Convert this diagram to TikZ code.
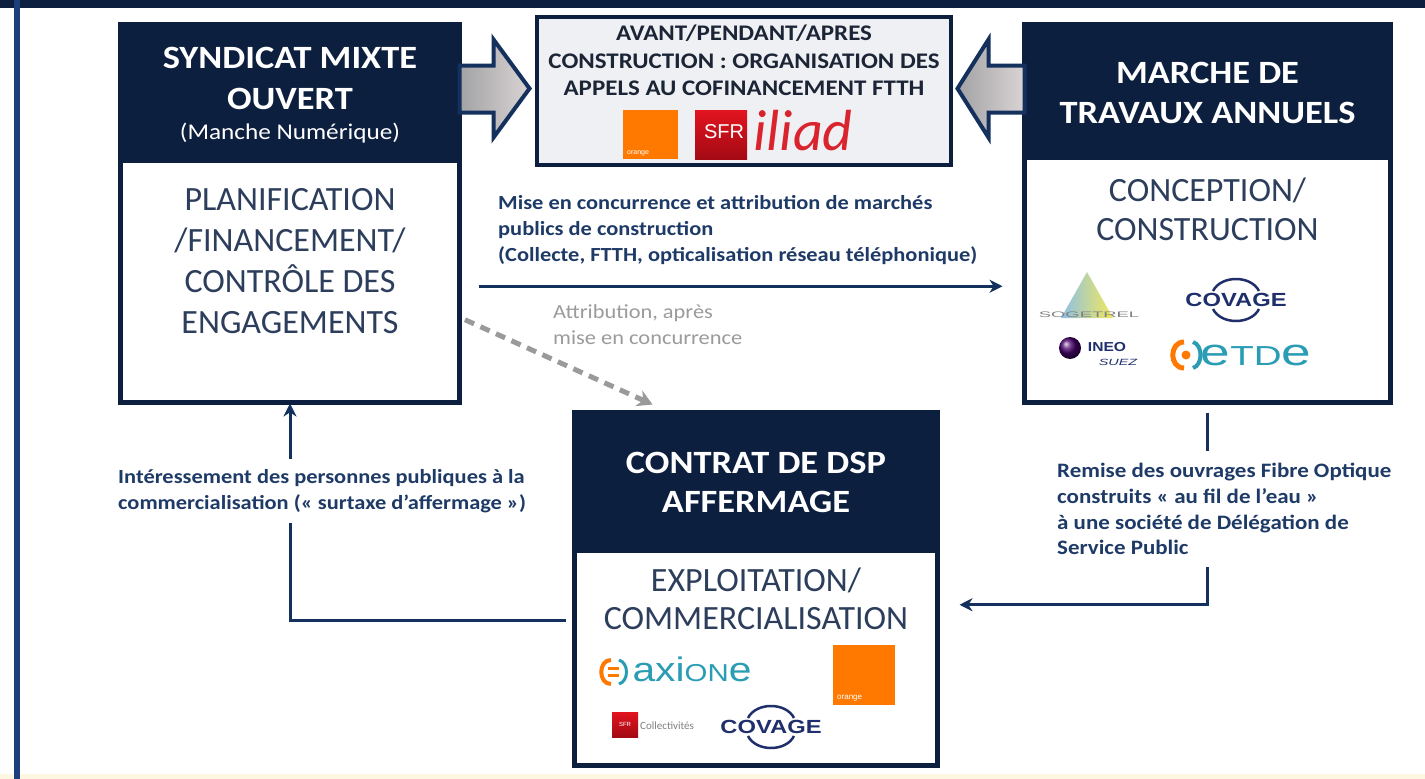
\documentclass[tikz,border=0pt]{standalone}
\usepackage{graphicx}
\usepackage{fontspec}
\setmainfont{Carlito}[FakeStretch=1.12]
\newfontfamily\bodyfont{Carlito}
\newfontfamily\logofont{Liberation Sans}
\usetikzlibrary{arrows.meta,calc}
\definecolor{navy}{HTML}{0D1F3E}
\definecolor{framebl}{HTML}{1C3F7C}
\definecolor{bodytx}{HTML}{2C3E5C}
\definecolor{linktx}{HTML}{1E3A66}
\definecolor{lineC}{HTML}{14305C}
\definecolor{grayT}{HTML}{9B9B9B}
\definecolor{grayD}{HTML}{9A9A9A}
\definecolor{orangeC}{HTML}{FF7900}
\definecolor{sfrRed}{HTML}{E2141F}
\definecolor{sfrDark}{HTML}{A30A14}
\definecolor{iliadRed}{HTML}{D9232D}
\definecolor{tealC}{HTML}{2A9DB5}
\definecolor{covNavy}{HTML}{1F2F6B}
\definecolor{boxgray}{HTML}{EFF0F3}
\definecolor{cofTx}{HTML}{1C2536}
\definecolor{bottomY}{HTML}{FDF6E0}
\definecolor{arrL}{HTML}{A2A2A4}
\definecolor{arrR}{HTML}{DAD4D4}
\definecolor{sogBlue}{HTML}{8CC0E8}
\definecolor{sogYel}{HTML}{F2E85A}
\begin{document}
\begin{tikzpicture}[x=1pt,y=-1pt,
  hdr/.style={fill=navy, draw=navy, line width=5pt, inner sep=0pt, outer sep=0pt},
  bodyb/.style={fill=white, draw=navy, line width=5pt, inner sep=0pt, outer sep=0pt},
  htext/.style={text=white, align=center, inner sep=0pt, font=\bfseries\fontsize{32.5}{40}\selectfont},
  btext/.style={text=bodytx, align=center, inner sep=0pt, font=\bodyfont\fontsize{34}{41}\selectfont},
  ltext/.style={text=linktx, align=left, inner sep=0pt, font=\bfseries\fontsize{20}{26}\selectfont},
  link/.style={draw=lineC, line width=3pt, -{Stealth[length=13pt,width=13pt]}},
  dlink/.style={draw=grayD, line width=5pt, dash pattern=on 10pt off 7pt, -{Stealth[length=15pt,width=17pt]}},
  barrow/.style={draw=lineC, line width=4pt, left color=arrL, right color=arrR, line join=miter},
  logobox/.style={inner sep=0pt, outer sep=0pt},
  covtext/.style={text=covNavy, inner sep=0pt, font=\logofont\bfseries\fontsize{19}{19}\selectfont},
  covarc/.style={draw=covNavy, line width=2.5pt}
]
\useasboundingbox (0,0) rectangle (1425,779);
% frame
\fill[white] (0,0) rectangle (1425,779);
\fill[bottomY] (0,774) rectangle (1425,779);
\fill[navy] (0,0) rectangle (1425,8);
\fill[framebl] (14,0) rectangle (20,779);

% ---- boxes ----
\node[hdr, minimum width=339pt, minimum height=135.5pt, anchor=south] (smoH) at (290,160) {};
\node[bodyb, minimum width=339pt, minimum height=242.5pt, anchor=north] (smoB) at (290,160) {};
\node[hdr, minimum width=366pt, minimum height=132.5pt, anchor=south] (mtaH) at (1207.5,157) {};
\node[bodyb, minimum width=366pt, minimum height=245.5pt, anchor=north] (mtaB) at (1207.5,157) {};
\node[hdr, minimum width=363pt, minimum height=137.5pt, anchor=south] (dspH) at (756,550) {};
\node[bodyb, minimum width=363pt, minimum height=215.5pt, anchor=north] (dspB) at (756,550) {};
\node[draw=navy, line width=4pt, fill=boxgray, minimum width=414pt, minimum height=148pt, inner sep=0pt, outer sep=0pt] (cof) at (744,91) {};

% ---- box texts ----
\node[htext, font=\bfseries\fontsize{32.5}{41}\selectfont] (smoT) at (290,78.5) {SYNDICAT MIXTE\\OUVERT};
\node[htext, font=\fontsize{22.5}{28}\selectfont] (smoS) at (290,133) {(Manche Numérique)};
\node[btext] (smoBT) at (290,261.5) {PLANIFICATION\\/FINANCEMENT/\\CONTRÔLE DES\\ENGAGEMENTS};
\node[htext] (mtaT) at (1207.5,93) {MARCHE DE\\TRAVAUX ANNUELS};
\node[btext, font=\bodyfont\fontsize{34}{39}\selectfont] (mtaBT) at (1207.5,209) {CONCEPTION/\\CONSTRUCTION};
\node[htext, font=\bfseries\fontsize{32.5}{39}\selectfont] (dspT) at (756,482.5) {CONTRAT DE DSP\\AFFERMAGE};
\node[btext, font=\bodyfont\fontsize{34}{38}\selectfont] (dspBT) at (756,599) {EXPLOITATION/\\COMMERCIALISATION};
\node[text=cofTx, align=center, inner sep=0pt, font=\bfseries\fontsize{22.3}{27.5}\selectfont] (cofT) at (744,60.5) {AVANT/PENDANT/APRES\\CONSTRUCTION : ORGANISATION DES\\APPELS AU COFINANCEMENT FTTH};

% ---- logos in the co-financing box ----
\node[logobox, fill=orangeC, minimum width=55pt, minimum height=49pt, anchor=north west] (orange1) at (623,110) {};
\node[text=white, inner sep=1pt, anchor=south west, font=\logofont\fontsize{7}{7}\selectfont] (orange1t) at ([shift={(3pt,2pt)}]orange1.south west) {orange};
\node[logobox, top color=sfrRed, bottom color=sfrDark, minimum width=52pt, minimum height=49pt, anchor=north west] (sfr1) at (695,110) {};
\node[text=white, inner sep=0pt, font=\logofont\fontsize{20}{20}\selectfont] (sfr1t) at (724,132) {SFR};
\node[text=iliadRed, inner sep=0pt, font=\bodyfont\itshape\fontsize{58}{58}\selectfont] (iliad) at (803,131) {iliad};

% ---- block arrows ----
\filldraw[barrow] ([shift={(0,41)}]smoH.north east) -- ++(34,0) -- ++(0,-26) -- ++(36,49) -- ++(-36,49) -- ++(0,-25) -- ++(-34,0) -- cycle;
\filldraw[barrow] ([shift={(0,41)}]mtaH.north west) -- ++(-36,0) -- ++(0,-26) -- ++(-31,49) -- ++(31,49) -- ++(0,-25) -- ++(36,0) -- cycle;

% ---- connectors ----
\draw[link, shorten <=19pt, shorten >=22pt] ([yshift=-5pt]smoB.east) -- ([yshift=-5pt]smoB.east -| mtaB.west);
\draw[dlink, shorten <=6pt] ([yshift=-36pt]smoB.east) -- ([shift={(78pt,8pt)}]dspH.north west);
\draw[link, shorten <=9pt, shorten >=1pt] ([yshift=37pt]dspB.west) -| (smoB.south);
\draw[link, shorten <=10pt, shorten >=22pt] (mtaB.south) |- ([yshift=53pt]dspB.east);

% ---- connector labels ----
\node[ltext, anchor=north west] (misT) at (498,195) {Mise en concurrence et attribution de marchés\\publics de construction\\(Collecte, FTTH, opticalisation réseau téléphonique)};
\node[ltext, text=grayT, font=\fontsize{20}{26}\selectfont, anchor=north west] (attT) at (553,304) {Attribution, après\\mise en concurrence};
\node[ltext, fill=white, inner xsep=3pt, inner ysep=10pt, anchor=north west] (intT) at (115,459) {Intéressement des personnes publiques à la\\commercialisation (« surtaxe d’affermage »)};
\node[ltext, fill=white, inner xsep=3pt, inner ysep=12pt, anchor=north west, font=\bfseries\fontsize{20.5}{25.7}\selectfont] (remT) at (1054,451) {Remise des ouvrages Fibre Optique\\construits « au fil de l’eau »\\à une société de Délégation de\\Service Public};

% ---- logos in MTA ----
\shade[left color=sogBlue, right color=sogYel] (1087,272) -- (1113,318) -- (1061,318) -- cycle;
\node[text=gray, inner sep=0pt, font=\logofont\fontsize{8}{8}\selectfont] (sogT) at (1089,315) {\scalebox{2.3}[1]{SOGETREL}};
\node[covtext] (cov1) at (1236,300) {\scalebox{1.25}[1]{COVAGE}};
\draw[covarc] ($(cov1)+(-23,-9)$) .. controls ($(cov1)+(-15,-25)$) and ($(cov1)+(15,-25)$) .. ($(cov1)+(23,-9)$);
\draw[covarc] ($(cov1)+(-23,9)$) .. controls ($(cov1)+(-15,25)$) and ($(cov1)+(15,25)$) .. ($(cov1)+(23,9)$);
\coordinate (ineoC) at (1070,348);
\shade[ball color=blue!60!red!70!black] (ineoC) circle (11);
\node[text=covNavy, inner sep=0pt, font=\logofont\bfseries\fontsize{13}{13}\selectfont] (ineoT) at (1107,347) {\scalebox{1.2}[1]{INEO}};
\node[text=covNavy, inner sep=0pt, font=\logofont\itshape\fontsize{9}{9}\selectfont] (suezT) at (1118,362) {\scalebox{1.6}[1]{SUEZ}};
\coordinate (etC) at (1186,355);
\draw[orangeC, line width=5pt] ($(etC)+(-2,-13)$) .. controls ($(etC)+(-17,-13)$) and ($(etC)+(-17,13)$) .. ($(etC)+(-2,13)$);
\fill[orangeC] (etC) circle (4.5);
\draw[tealC, line width=4pt] ($(etC)+(7,-13)$) .. controls ($(etC)+(17,-10)$) and ($(etC)+(17,10)$) .. ($(etC)+(7,13)$);
\node[text=tealC, inner sep=0pt, anchor=base, font=\logofont\fontsize{38}{38}\selectfont] (etdeT) at (1256,365) {\scalebox{1.4}[1]{e{\fontsize{27.5}{27.5}\selectfont TD}e}};

% ---- logos in DSP ----
\coordinate (axC) at (614,672);
\draw[orangeC, line width=4pt] ($(axC)+(-3,-12)$) .. controls ($(axC)+(-16,-12)$) and ($(axC)+(-16,12)$) .. ($(axC)+(-3,12)$);
\draw[tealC, line width=3pt] ($(axC)+(5,-12)$) .. controls ($(axC)+(15,-9)$) and ($(axC)+(15,9)$) .. ($(axC)+(5,12)$);
\draw[orangeC, line width=2.5pt] ($(axC)+(-6,-3.5)$) -- ($(axC)+(5,-3.5)$) ($(axC)+(-6,3.5)$) -- ($(axC)+(5,3.5)$);
\node[text=tealC, inner sep=0pt, anchor=base, font=\logofont\fontsize{34}{34}\selectfont] (axT) at (692,681) {\scalebox{1.2}[1]{axi{\fontsize{24.5}{24.5}\selectfont ON}e}};
\node[logobox, fill=orangeC, minimum width=62pt, minimum height=60pt, anchor=north west] (orange2) at (833,645) {};
\node[text=white, inner sep=1pt, anchor=south west, font=\logofont\fontsize{8}{8}\selectfont] (orange2t) at ([shift={(3pt,3pt)}]orange2.south west) {orange};
\node[logobox, top color=sfrRed, bottom color=sfrDark, minimum width=26pt, minimum height=25pt, anchor=north west] (sfr2) at (612,712) {};
\node[text=white, inner sep=0pt, font=\logofont\fontsize{6}{6}\selectfont] (sfr2t) at (625,724) {SFR};
\node[text=gray, inner sep=0pt, anchor=west, font=\bodyfont\fontsize{11}{11}\selectfont] (collT) at (640,726) {Collectivités};
\node[covtext] (cov2) at (771,727) {\scalebox{1.25}[1]{COVAGE}};
\draw[covarc] ($(cov2)+(-23,-9)$) .. controls ($(cov2)+(-15,-25)$) and ($(cov2)+(15,-25)$) .. ($(cov2)+(23,-9)$);
\draw[covarc] ($(cov2)+(-23,9)$) .. controls ($(cov2)+(-15,25)$) and ($(cov2)+(15,25)$) .. ($(cov2)+(23,9)$);
\end{tikzpicture}
\end{document}
